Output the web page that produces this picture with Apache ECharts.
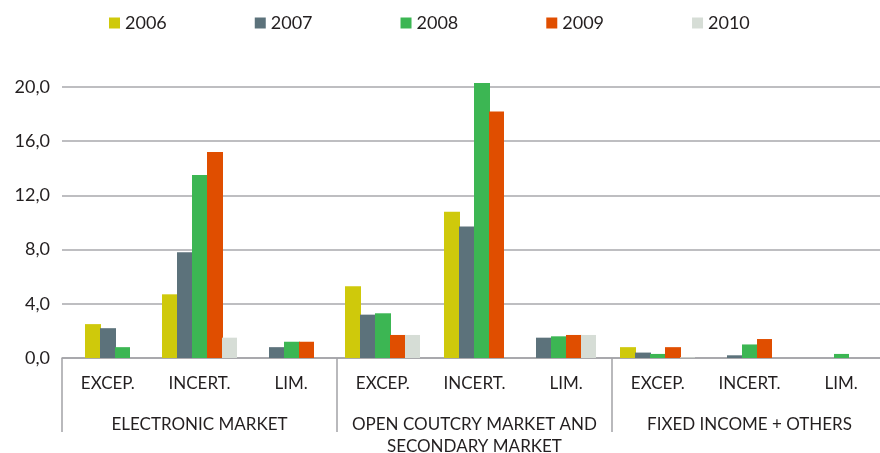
<!DOCTYPE html>
<html>
<head>
<meta charset="utf-8">
<script src="https://cdn.jsdelivr.net/npm/echarts@6/dist/echarts.min.js"></script>
<style>
    html, body { margin: 0; padding: 0; background: #fff; }
    #main { width: 880px; height: 453px; }
</style>
</head>
<body>
<div id="main"></div>
<script>
// sub categories (9) and their groups (3)
var categories = ['EXCEP.', 'INCERT.', 'LIM.', 'EXCEP.', 'INCERT.', 'LIM.', 'EXCEP.', 'INCERT.', 'LIM.'];
var groups = ['ELECTRONIC MARKET', 'OPEN COUTCRY MARKET AND\nSECONDARY MARKET', 'FIXED INCOME + OTHERS'];
var years = ['2006', '2007', '2008', '2009', '2010'];

var y2006 = [2.5, 4.7, null, 5.3, 10.8, null, 0.8, null, null];
var y2007 = [2.2, 7.8, 0.8, 3.2, 9.7, 1.5, 0.4, 0.2, null];
var y2008 = [0.8, 13.5, 1.2, 3.3, 20.3, 1.6, 0.3, 1.0, 0.3];
var y2009 = [null, 15.2, 1.2, 1.7, 18.2, 1.7, 0.8, 1.4, null];
var y2010 = [null, 1.5, null, 1.7, null, 1.7, 0.05, null, null];

var yTicks = [0, 4, 8, 12, 16, 20];

var colors = ['#cfc90b', '#5c727b', '#3cb653', '#e04e00', '#d6ddd6'];
var allData = [y2006, y2007, y2008, y2009, y2010];
var FONT = 'Lato';

// bars of a category are packed side by side and centred on the category
function makeRender(si) {
    return function (params, api) {
        var ci = api.value(0);
        var v = api.value(1);
        var present = [];
        for (var k = 0; k < allData.length; k++) {
            if (allData[k][ci] != null) present.push(k);
        }
        var rank = present.indexOf(si);
        var bw = Math.round(api.size([1, 0])[0] * 0.166);
        var base = api.coord([ci, 0]);
        var top = api.coord([ci, v]);
        var x0 = Math.round(base[0] - present.length * bw / 2);
        var last = rank === present.length - 1;
        return {
            type: 'rect',
            shape: { x: x0 + rank * bw, y: top[1], width: last ? bw : bw + 1, height: base[1] - top[1] },
            style: { fill: colors[si], stroke: null, lineWidth: 0 }
        };
    };
}

var series = years.map(function (name, si) {
    var d = [];
    allData[si].forEach(function (v, ci) {
        if (v != null) d.push([ci, v]);
    });
    return {
        name: name,
        type: 'custom',
        renderItem: makeRender(si),
        itemStyle: { color: colors[si] },
        encode: { x: 0, y: 1 },
        data: d
    };
});

var myChart = echarts.init(document.getElementById('main'));
var option = {
    animation: false,
    color: colors,
    textStyle: { fontFamily: FONT },
    legend: {
        data: years,
        left: 104,
        top: 9,
        itemWidth: 11,
        itemHeight: 11,
        itemGap: 88,
        icon: 'rect',
        textStyle: { fontFamily: FONT, fontSize: 18, color: '#231f20' }
    },
    grid: {
        left: 62,
        right: -7,
        top: 87,
        bottom: 95,
        outerBoundsMode: 'none'
    },
    xAxis: [
        {
            type: 'category',
            data: categories,
            position: 'bottom',
            axisLine: { lineStyle: { color: '#a3a3a6', width: 1.5 } },
            axisTick: { show: false },
            axisLabel: { fontFamily: FONT, fontSize: 17, color: '#231f20', margin: 17, interval: 0 }
        },
        {
            type: 'category',
            data: groups,
            position: 'bottom',
            axisLine: { show: false },
            axisTick: { show: true, length: 74, interval: 0, lineStyle: { color: '#a3a3a6', width: 1.5 } },
            axisLabel: { fontFamily: FONT, fontSize: 17, color: '#231f20', margin: 56, lineHeight: 22, interval: 0 }
        }
    ],
    yAxis: {
        type: 'value',
        min: yTicks[0],
        max: yTicks[yTicks.length - 1],
        interval: 4,
        axisLine: { show: false },
        axisTick: { show: false },
        splitLine: { lineStyle: { color: '#a8a8ac', width: 1.5 } },
        axisLabel: {
            fontFamily: FONT,
            fontSize: 18,
            color: '#231f20',
            margin: 12,
            formatter: function (v) { return v.toFixed(1).replace('.', ','); }
        }
    },
    series: series
};
myChart.setOption(option);
</script>
</body>
</html>
